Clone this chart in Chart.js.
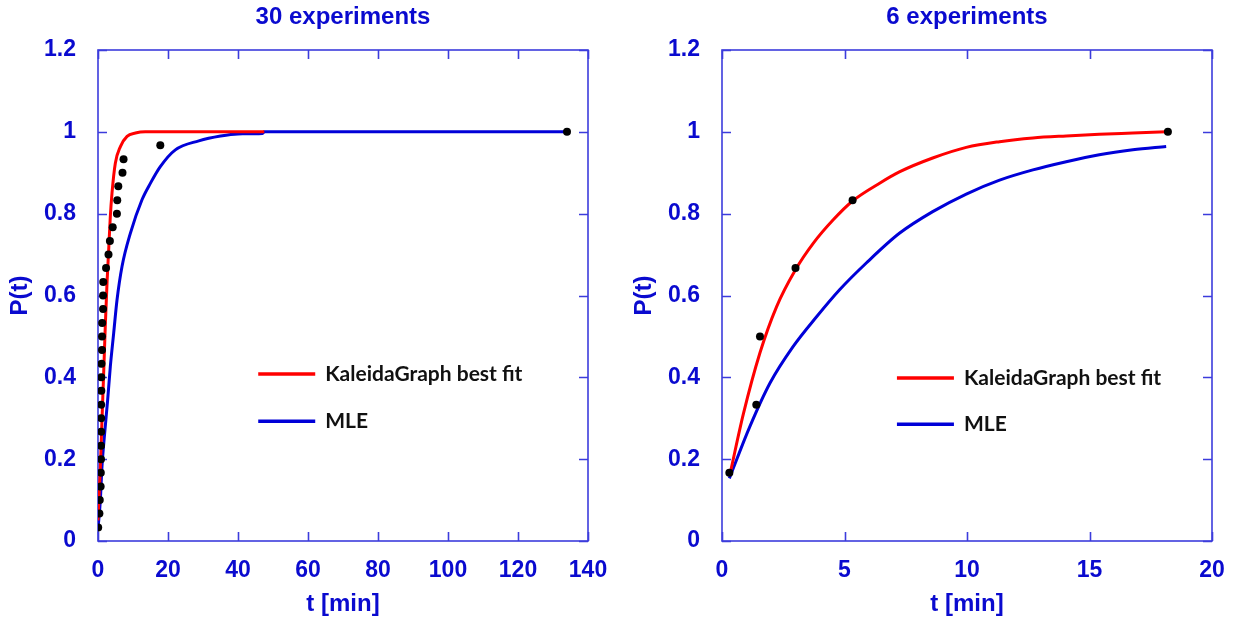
<!DOCTYPE html>
<html>
<head>
<meta charset="utf-8">
<title>P(t)</title>
<script src="https://cdn.jsdelivr.net/npm/chart.js@4.4.1/dist/chart.umd.min.js"></script>
<style>
  body { margin: 0; background: #fff; }
  #wrap { position: relative; width: 1236px; height: 624px; }
  .panel { position: absolute; top: 0; width: 612px; height: 624px; }
</style>
</head>
<body>
<div id="wrap">
  <div class="panel" style="left:0"><canvas id="chart30" width="612" height="624"></canvas></div>
  <div class="panel" style="left:624px"><canvas id="chart6" width="612" height="624"></canvas></div>
</div>
<script>
// ---- 30 experiments ----
const obsT30 = [0.05, 0.4, 0.5, 0.75, 0.8, 0.85, 0.85, 0.9, 0.9, 0.9, 0.95, 0.95, 1.0, 1.15, 1.15, 1.2, 1.45, 1.45, 1.5, 2.3, 3.0, 3.4, 4.2, 5.4, 5.5, 5.8, 7.0, 7.3, 17.8, 134];
const obsP30 = [0.033, 0.067, 0.1, 0.133, 0.167, 0.2, 0.233, 0.267, 0.3, 0.333, 0.367, 0.4, 0.433, 0.467, 0.5, 0.533, 0.567, 0.6, 0.633, 0.667, 0.7, 0.733, 0.767, 0.8, 0.833, 0.867, 0.9, 0.933, 0.967, 1.0];
const fitT30 = [0, 0.3, 0.67, 1.14, 1.62, 2.1, 2.6, 3.05, 3.5, 4.0, 4.95, 6.4, 8.3, 10.7, 13.5, 20, 30, 47.5];
const fitP30 = [0.05, 0.11, 0.18, 0.296, 0.41, 0.53, 0.635, 0.711, 0.79, 0.85, 0.923, 0.964, 0.989, 0.997, 1.0, 1.0, 1.0, 1.0];
const mleT30 = [0, 0.67, 1.14, 1.9, 2.76, 3.52, 4.48, 5.43, 6.86, 9.24, 12.57, 14.95, 17.8, 22.1, 28.8, 35, 40, 47, 47.5, 134];
const mleP30 = [0.03, 0.1, 0.182, 0.263, 0.345, 0.426, 0.508, 0.589, 0.671, 0.752, 0.834, 0.874, 0.915, 0.956, 0.978, 0.99, 0.995, 0.996, 1.0, 1.0];
const xTicks30 = [0, 20, 40, 60, 80, 100, 120, 140];

// ---- 6 experiments ----
const obsT6 = [0.3, 1.4, 1.55, 3.0, 5.33, 18.2];
const obsP6 = [0.167, 0.333, 0.5, 0.667, 0.833, 1.0];
const fitT6 = [0.35, 0.87, 1.55, 2.23, 3.0, 3.73, 4.54, 5.33, 6.45, 7.24, 8.6, 9.97, 11.33, 12.69, 14.05, 15.4, 16.77, 18.13];
const fitP6 = [0.17, 0.31, 0.46, 0.573, 0.663, 0.728, 0.785, 0.831, 0.875, 0.902, 0.936, 0.962, 0.976, 0.985, 0.99, 0.994, 0.997, 1.0];
const mleT6 = [0.3, 1.14, 1.96, 2.9, 3.86, 4.8, 5.9, 7.24, 8.6, 9.97, 11.33, 12.69, 14.05, 15.4, 16.77, 18.13];
const mleP6 = [0.153, 0.28, 0.386, 0.475, 0.548, 0.614, 0.68, 0.752, 0.805, 0.848, 0.882, 0.907, 0.927, 0.944, 0.956, 0.964];
const xTicks6 = [0, 5, 10, 15, 20];

const yTicks = [0, 0.2, 0.4, 0.6, 0.8, 1, 1.2];
const seriesNames = ['KaleidaGraph best fit', 'MLE'];

const TEXT_BLUE = '#0a0acf';
const FRAME_BLUE = '#3c3cdc';
const RED = '#ff0000';
const BLUE = '#0000d8';
const SANS = 'Liberation Sans, Arial, sans-serif';

const pts = (xs, ys) => xs.map((x, i) => ({ x, y: ys[i] }));

// box around the plot with short inward ticks on all four sides
const framePlugin = {
    id: 'frame',
    beforeDatasetsDraw(chart) {
        const { ctx, chartArea: a, scales: { x, y } } = chart;
        const len = 9;
        ctx.save();
        ctx.strokeStyle = FRAME_BLUE;
        ctx.lineWidth = 1.6;
        ctx.strokeRect(a.left, a.top, a.width, a.height);
        ctx.beginPath();
        x.ticks.forEach(tk => {
            const px = Math.round(x.getPixelForValue(tk.value)) + 0.5;
            ctx.moveTo(px, a.bottom); ctx.lineTo(px, a.bottom - len);
            ctx.moveTo(px, a.top); ctx.lineTo(px, a.top + len);
        });
        y.ticks.forEach(tk => {
            const py = Math.round(y.getPixelForValue(tk.value)) + 0.5;
            ctx.moveTo(a.left, py); ctx.lineTo(a.left + len, py);
            ctx.moveTo(a.right, py); ctx.lineTo(a.right - len, py);
        });
        ctx.stroke();
        ctx.restore();
    }
};

// legend sitting inside the plot
const boxLegend = {
    id: 'boxLegend',
    afterDraw(chart, args, opts) {
        const { ctx, chartArea: a } = chart;
        const x0 = a.left + a.width * opts.x;
        ctx.save();
        ctx.font = 'bold 21px Lato, sans-serif';
        ctx.textBaseline = 'middle';
        ctx.fillStyle = '#111';
        opts.items.forEach((it, i) => {
            const yy = a.top + a.height * opts.y[i];
            ctx.strokeStyle = it.color;
            ctx.lineWidth = 3.5;
            ctx.beginPath();
            ctx.moveTo(x0, yy); ctx.lineTo(x0 + 57, yy);
            ctx.stroke();
            ctx.fillText(it.label, x0 + 67, yy);
        });
        ctx.restore();
    }
};

function makeChart(id, title, obs, fit, mle, xMax, xTicks, legendX, legendY) {
    const tickFont = { family: SANS, size: 23, weight: 'bold' };
    const axisTitleFont = { family: SANS, size: 24, weight: 'bold' };
    return new Chart(document.getElementById(id), {
        type: 'scatter',
        data: {
            datasets: [
                { data: obs, showLine: false, pointRadius: 4, pointBackgroundColor: '#000', pointBorderWidth: 0 },
                { data: fit, showLine: true, borderColor: RED, borderWidth: 3, pointRadius: 0, cubicInterpolationMode: 'monotone' },
                { data: mle, showLine: true, borderColor: BLUE, borderWidth: 3, pointRadius: 0, cubicInterpolationMode: 'monotone' }
            ]
        },
        options: {
            responsive: false,
            animation: false,
            layout: { padding: { left: 0, right: 24, top: 0, bottom: 0 } },
            plugins: {
                legend: { display: false },
                tooltip: { enabled: false },
                title: {
                    display: true, text: title, fullSize: false, color: TEXT_BLUE,
                    font: { family: SANS, size: 24, weight: 'bold' },
                    padding: { top: 3, bottom: 18.2 }
                },
                boxLegend: {
                    x: legendX, y: legendY,
                    items: [{ label: seriesNames[0], color: RED }, { label: seriesNames[1], color: BLUE }]
                }
            },
            scales: {
                x: {
                    type: 'linear', min: 0, max: xMax,
                    grid: { display: false }, border: { display: false },
                    ticks: { color: TEXT_BLUE, font: tickFont, padding: 8, maxRotation: 0 },
                    afterBuildTicks: s => { s.ticks = xTicks.map(v => ({ value: v })); },
                    afterFit: s => { s.height = 83; s.paddingLeft = 0; s.paddingRight = 0; },
                    title: { display: true, text: 't [min]', color: TEXT_BLUE, font: axisTitleFont, padding: { top: 0, bottom: 5 } }
                },
                y: {
                    type: 'linear', min: 0, max: 1.2,
                    grid: { display: false }, border: { display: false },
                    ticks: { color: TEXT_BLUE, font: tickFont, padding: 14, callback: v => String(v) },
                    afterBuildTicks: s => { s.ticks = yTicks.map(v => ({ value: v })); },
                    afterFit: s => { s.width = 98; s.paddingTop = 0; s.paddingBottom = 0; },
                    title: { display: true, text: 'P(t)', color: TEXT_BLUE, font: axisTitleFont, padding: { top: 6, bottom: 0 } }
                }
            }
        },
        plugins: [framePlugin, boxLegend]
    });
}

makeChart('chart30', '30 experiments', pts(obsT30, obsP30), pts(fitT30, fitP30), pts(mleT30, mleP30),
    140, xTicks30, 0.327, [0.66, 0.756]);
makeChart('chart6', '6 experiments', pts(obsT6, obsP6), pts(fitT6, fitP6), pts(mleT6, mleP6),
    20, xTicks6, 0.357, [0.668, 0.762]);
</script>
</body>
</html>
